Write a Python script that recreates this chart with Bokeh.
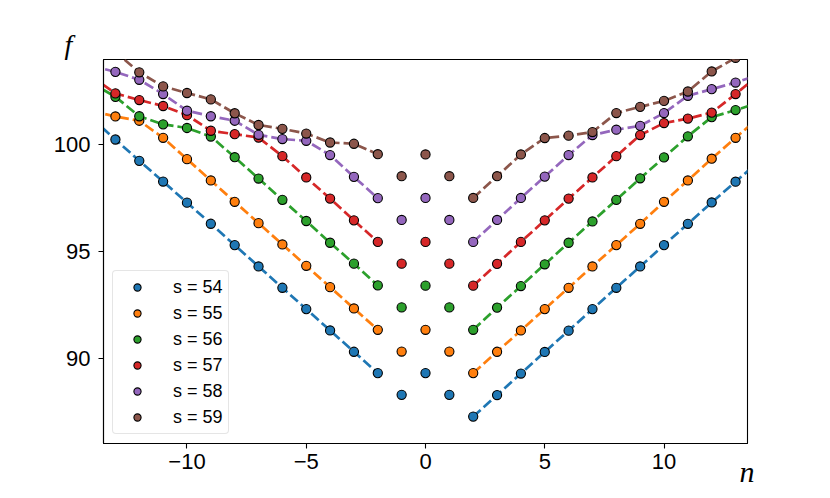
from bokeh.plotting import figure
from bokeh.models import Range1d, FixedTicker, Legend, LegendItem, Title
from bokeh.embed import file_html
from bokeh.resources import INLINE

# integer n values (±14 lie just outside the visible range, giving line ends)
n_vals = [-14, -13, -12, -11, -10, -9, -8, -7, -6, -5, -4, -3, -2, -1, 0,
          1, 2, 3, 4, 5, 6, 7, 8, 9, 10, 11, 12, 13, 14]

s_labels = ["s = 54", "s = 55", "s = 56", "s = 57", "s = 58", "s = 59"]

f54 = [101.25, 100.25, 99.25, 98.28, 97.29, 96.3, 95.3, 94.3, 93.3, 92.3, 91.3, 90.3, 89.3,
       88.28, 89.3, 88.28,
       87.26, 88.27, 89.28, 90.29, 91.29, 92.3, 93.3, 94.3, 95.3, 96.3, 97.3, 98.27, 99.25]
f55 = [101.58, 101.33, 101.13, 100.33, 99.33, 98.33, 97.33, 96.33, 95.33, 94.33, 93.33, 92.33, 91.33,
       90.31, 91.33, 90.31,
       89.3, 90.3, 91.3, 92.3, 93.3, 94.3, 95.3, 96.3, 97.33, 98.33, 99.35, 100.33, 101.3]
f56 = [102.9, 102.25, 101.34, 100.96, 100.79, 100.39, 99.42, 98.42, 97.42, 96.43, 95.41, 94.43, 93.41,
       92.38, 93.4, 92.38,
       91.33, 92.37, 93.38, 94.4, 95.41, 96.41, 97.42, 98.43, 99.41, 100.4, 101.3, 101.63, 101.98]
f57 = [103.2, 102.41, 102.1, 101.82, 101.39, 100.66, 100.5, 100.34, 99.47, 98.47, 97.48, 96.46, 95.45,
       94.43, 95.45, 94.43,
       93.4, 94.42, 95.45, 96.46, 97.48, 98.47, 99.47, 100.46, 101.02, 101.23, 101.51, 102.38, 103.3]
f58 = [103.7, 103.42, 103.05, 102.38, 101.6, 101.34, 101.13, 100.47, 100.27, 100.19, 99.52, 98.5, 97.5,
       96.48, 97.51, 96.48,
       95.45, 96.48, 97.51, 98.51, 99.52, 100.46, 100.71, 100.89, 101.49, 102.3, 102.61, 102.92, 103.3]
f59 = [105.2, 104.35, 103.4, 102.74, 102.43, 102.13, 101.48, 100.93, 100.75, 100.53, 100.11, 100.05, 99.56,
       98.53, 99.55, 98.53,
       97.51, 98.53, 99.55, 100.32, 100.43, 100.6, 101.49, 101.78, 102.06, 102.5, 103.44, 104.08, 105.0]

series = [f54, f55, f56, f57, f58, f59]
colors = ["#1f77b4", "#ff7f0e", "#2ca02c", "#d62728", "#9467bd", "#8c564b"]

x_ticks = [-10, -5, 0, 5, 10]
y_ticks = [90, 95, 100]

p = figure(frame_width=644, frame_height=384,
           min_border_left=103, min_border_top=59, min_border_right=75, min_border_bottom=47,
           x_range=Range1d(-13.5, 13.5), y_range=Range1d(86, 104),
           output_backend="svg", toolbar_location=None)

left_idx = [i for i, n in enumerate(n_vals) if n <= -2]
right_idx = [i for i, n in enumerate(n_vals) if n >= 2]

for f, c in zip(series, colors):
    for idx in (left_idx, right_idx):
        p.line([n_vals[i] for i in idx], [f[i] for i in idx],
               line_color=c, line_width=2.7, line_dash="10 4")

items = []
for f, c, lab in zip(series, colors, s_labels):
    r = p.scatter(n_vals, f, size=9.2, fill_color=c, line_color="black", line_width=1.1)
    items.append(LegendItem(label=lab, renderers=[r]))

legend = Legend(items=items, location="bottom_left")
legend.margin = 9
legend.padding = 5
legend.spacing = 4
legend.glyph_width = 38
legend.glyph_height = 18
legend.label_height = 22
legend.label_standoff = 17
legend.label_text_font = "Liberation Sans"
legend.label_text_font_size = "18px"
legend.label_text_color = "black"
legend.border_line_color = "#cccccc"
legend.border_line_width = 1
legend.background_fill_alpha = 0.8
legend.border_radius = 4
p.add_layout(legend)

p.xaxis.ticker = FixedTicker(ticks=x_ticks)
p.yaxis.ticker = FixedTicker(ticks=y_ticks)
p.xaxis.major_label_overrides = {-10: "\u221210", -5: "\u22125"}
for ax in (p.xaxis, p.yaxis):
    ax.minor_tick_line_color = None
    ax.major_tick_in = 0
    ax.major_tick_out = 5
    ax.major_tick_line_width = 1.1
    ax.axis_line_width = 1.1
    ax.major_label_text_font = "Liberation Sans"
    ax.major_label_text_font_size = "22px"
    ax.major_label_text_color = "black"
p.xaxis.major_label_standoff = 5
p.yaxis.major_label_standoff = 8
p.grid.visible = False
p.outline_line_color = "black"
p.outline_line_width = 1.1

p.add_layout(Title(text="f", align="left", offset=-39, standoff=0,
                   text_font="Liberation Serif", text_font_style="italic",
                   text_font_size="28px", text_color="black"), "above")
p.add_layout(Title(text="n", align="right", offset=-7, standoff=-34, vertical_align="top",
                   text_font="Liberation Serif", text_font_style="italic",
                   text_font_size="30px", text_color="black"), "below")

open("out.html", "w").write(file_html(p, INLINE))
